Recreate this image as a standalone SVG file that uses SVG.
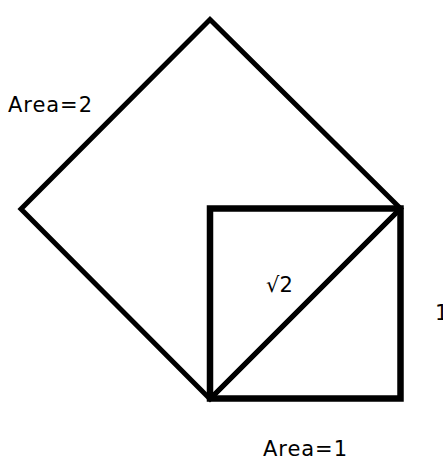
<svg xmlns="http://www.w3.org/2000/svg" width="443" height="458" viewBox="0 0 443 458">
<style>
.s{fill:none;stroke:#000;}
.t{font-family:"DejaVu Sans","Liberation Sans",sans-serif;font-size:21px;fill:#000;}
</style>
<rect width="443" height="458" fill="#fff"/>
<g id="connectors">
<g id="big-square"><polygon class="s" stroke-width="5" points="210,19.5 400.5,208.5 210,399 21,209"/></g>
<g id="small-square"><rect class="s" stroke-width="6.5" x="210" y="208.5" width="190.5" height="190"/></g>
<g id="diagonal"><line class="s" stroke-width="5" x1="210" y1="399" x2="400.5" y2="208.5"/></g>
</g>
<g id="label-area2"><text class="t" x="8" y="112" textLength="84">Area=2</text></g>
<g id="label-sqrt2"><text class="t" x="266" y="292">√2</text></g>
<g id="label-1"><text class="t" x="435" y="320">1</text></g>
<g id="label-area1"><text class="t" x="263" y="456" textLength="84">Area=1</text></g>
</svg>
